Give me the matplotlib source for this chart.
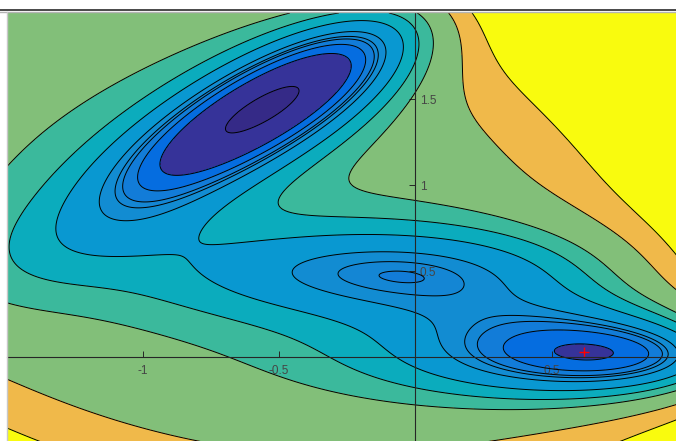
import numpy as np
import matplotlib
matplotlib.use("Agg")
import matplotlib.pyplot as plt
from matplotlib.colors import LinearSegmentedColormap, Normalize
from matplotlib.lines import Line2D

plt.rcParams['axes.unicode_minus'] = False
plt.rcParams['font.family'] = ['Liberation Sans', 'DejaVu Sans']

# Mueller-Brown potential parameters
A = [-200, -100, -170, 15]
a = [-1, -1, -6.5, 0.7]
b = [0, 0, 11, 0.6]
c = [-10, -10, -6.5, 0.7]
x0 = [1, 0, -0.5, -1]
y0 = [0, 0.5, 1.5, 1]

# contour levels and colour limits
levels = [-140, -105, -90, -80, -75, -65, -40, -15, 10, 60, 110]
clim = [-146.7, 110]

# global minimum marker
min_x = [0.62]
min_y = [0.027]

x_ticks = [-1, -0.5, 0.5]
x_tick_labels = ['-1', '-0.5', '0.5']
y_ticks = [0.5, 1, 1.5]
y_tick_labels = ['0.5', '1', '1.5']

parula_rgb = [
    (0.2081, 0.1663, 0.5292), (0.2116, 0.1898, 0.5777), (0.2123, 0.2138, 0.6270),
    (0.2081, 0.2386, 0.6771), (0.1959, 0.2645, 0.7279), (0.1707, 0.2919, 0.7792),
    (0.1253, 0.3242, 0.8303), (0.0591, 0.3598, 0.8683), (0.0117, 0.3875, 0.8820),
    (0.0060, 0.4086, 0.8828), (0.0165, 0.4266, 0.8786), (0.0329, 0.4430, 0.8720),
    (0.0498, 0.4586, 0.8641), (0.0629, 0.4737, 0.8554), (0.0723, 0.4887, 0.8467),
    (0.0779, 0.5040, 0.8384), (0.0793, 0.5200, 0.8312), (0.0749, 0.5375, 0.8263),
    (0.0641, 0.5570, 0.8240), (0.0488, 0.5772, 0.8228), (0.0343, 0.5966, 0.8199),
    (0.0265, 0.6137, 0.8135), (0.0239, 0.6287, 0.8038), (0.0231, 0.6418, 0.7913),
    (0.0228, 0.6535, 0.7768), (0.0267, 0.6642, 0.7607), (0.0384, 0.6743, 0.7436),
    (0.0590, 0.6838, 0.7254), (0.0843, 0.6928, 0.7062), (0.1133, 0.7015, 0.6859),
    (0.1453, 0.7098, 0.6646), (0.1801, 0.7177, 0.6424), (0.2178, 0.7250, 0.6193),
    (0.2586, 0.7317, 0.5954), (0.3022, 0.7376, 0.5712), (0.3482, 0.7424, 0.5473),
    (0.3953, 0.7459, 0.5244), (0.4420, 0.7481, 0.5033), (0.4871, 0.7491, 0.4840),
    (0.5300, 0.7491, 0.4661), (0.5709, 0.7485, 0.4494), (0.6099, 0.7473, 0.4337),
    (0.6473, 0.7456, 0.4188), (0.6834, 0.7435, 0.4044), (0.7184, 0.7411, 0.3905),
    (0.7525, 0.7384, 0.3768), (0.7858, 0.7356, 0.3633), (0.8185, 0.7327, 0.3498),
    (0.8507, 0.7299, 0.3360), (0.8824, 0.7274, 0.3217), (0.9139, 0.7258, 0.3063),
    (0.9450, 0.7261, 0.2886), (0.9739, 0.7314, 0.2666), (0.9938, 0.7455, 0.2403),
    (0.9990, 0.7653, 0.2164), (0.9955, 0.7861, 0.1967), (0.9880, 0.8066, 0.1794),
    (0.9789, 0.8271, 0.1633), (0.9697, 0.8481, 0.1475), (0.9626, 0.8705, 0.1309),
    (0.9589, 0.8949, 0.1132), (0.9598, 0.9218, 0.0948), (0.9661, 0.9514, 0.0755),
    (0.9763, 0.9831, 0.0538)]
parula = LinearSegmentedColormap.from_list('parula', parula_rgb)


def potential(X, Y):
    V = np.zeros_like(X)
    for k in range(len(A)):
        dx = X - x0[k]
        dy = Y - y0[k]
        V += A[k] * np.exp(a[k] * dx**2 + b[k] * dx * dy + c[k] * dy**2)
    return V


x = np.linspace(-1.5, 1.0, 600)
y = np.linspace(-0.5, 2.0, 600)
X, Y = np.meshgrid(x, y)
V = potential(X, Y)

# each band takes the colour of its lower level
norm = Normalize(vmin=clim[0], vmax=clim[1])
fill_levels = [V.min() - 1] + levels + [V.max() + 1]
band_colors = [parula(norm(V.min()))] + [parula(norm(l)) for l in levels]

W, H = 676, 441
fig = plt.figure(figsize=(W / 100, H / 100), dpi=100)
fig.patch.set_facecolor('white')
ax_l, ax_r, ax_t, ax_b = 6.5, 688, 13, 443
ax = fig.add_axes([ax_l / W, 1 - ax_b / H, (ax_r - ax_l) / W, (ax_b - ax_t) / H])

ax.contourf(X, Y, V, levels=fill_levels, colors=band_colors)
ax.contour(X, Y, V, levels=levels, colors='black', linewidths=0.7,
           linestyles='solid', negative_linestyles='solid')
ax.plot(min_x, min_y, '+', color='red', markersize=7, markeredgewidth=1.0, zorder=5)

ax.set_xlim(-1.5, 1.0)
ax.set_ylim(-0.5, 2.0)

# axes drawn through the origin
ax.spines['top'].set_visible(False)
ax.spines['left'].set_visible(False)
ax.spines['bottom'].set_position(('data', 0))
ax.spines['right'].set_position(('data', 0))
for s in ('bottom', 'right'):
    ax.spines[s].set_color('#262626')
    ax.spines[s].set_linewidth(0.8)
    ax.spines[s].set_zorder(6)
ax.yaxis.tick_right()
ax.set_xticks(x_ticks)
ax.set_xticklabels(x_tick_labels)
ax.set_yticks(y_ticks)
ax.set_yticklabels(y_tick_labels)
ax.tick_params(axis='x', direction='in', length=4.5, width=0.7, color='#262626',
               labelsize=8.5, labelcolor='#454545', pad=5.5)
ax.tick_params(axis='y', direction='in', length=4.5, width=0.7, color='#262626',
               labelsize=8.5, labelcolor='#454545', pad=3)

# window border
fig.add_artist(Line2D([0, 1], [1 - 10 / H, 1 - 10 / H], color='#3a3a3a', lw=1.3))
fig.add_artist(Line2D([0, 1], [1 - 12 / H, 1 - 12 / H], color='#b4b4b4', lw=1.0))
fig.add_artist(Line2D([7 / W, 7 / W], [0, 1 - 12 / H], color='#c8c8c8', lw=1.0))
fig.add_artist(Line2D([0, 6.5 / W], [0, 0], color='white', lw=0))

fig.savefig('out.png', dpi=100)
